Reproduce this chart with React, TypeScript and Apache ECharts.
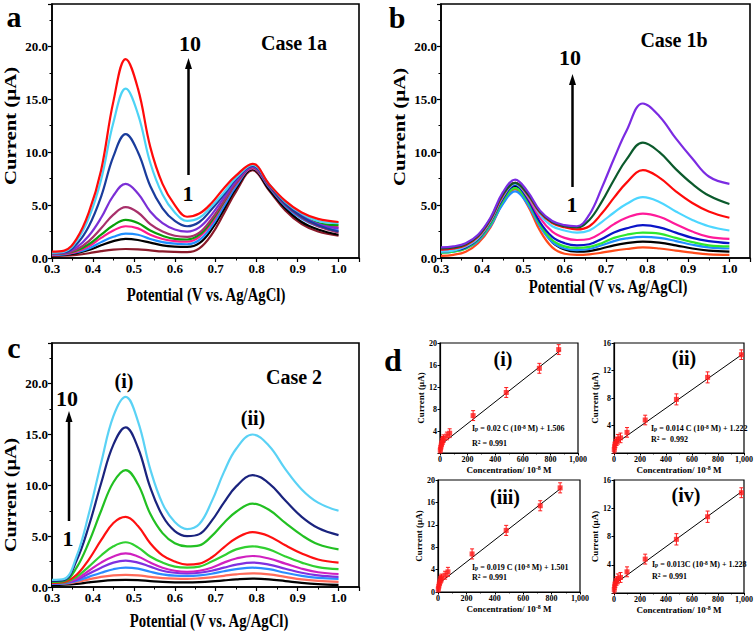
import React, { useEffect, useRef } from 'react';
import * as echarts from 'echarts';

const FONT = "'Liberation Serif', 'Times New Roman', Times, serif";

// Potential sample points (V vs. Ag/AgCl)
const potential = [0.30, 0.33, 0.36, 0.39, 0.42, 0.45, 0.48, 0.51, 0.54, 0.57, 0.60, 0.63, 0.66, 0.69, 0.72, 0.75, 0.79, 0.83, 0.87, 0.91, 0.95, 1.00];

// Panel a (Case 1a) currents, µA, curves 1..10
const a1 = [0.2, 0.22, 0.3, 0.45, 0.65, 0.8, 0.85, 0.82, 0.72, 0.62, 0.57, 0.55, 0.9, 2.2, 4.2, 6.3, 8.3, 6.4, 4.5, 3.2, 2.5, 2.1];
const a2 = [0.3, 0.32, 0.45, 0.75, 1.2, 1.6, 1.8, 1.7, 1.45, 1.2, 1.08, 1.05, 1.4, 2.7, 4.6, 6.6, 8.4, 6.5, 4.7, 3.4, 2.7, 2.2];
const a3 = [0.3, 0.35, 0.55, 0.9, 1.5, 2.0, 2.3, 2.2, 1.8, 1.5, 1.35, 1.3, 1.7, 3.0, 4.9, 6.8, 8.5, 6.7, 4.9, 3.7, 3.0, 2.6];
const a4 = [0.35, 0.4, 0.6, 1.1, 1.9, 2.6, 3.0, 2.8, 2.2, 1.8, 1.6, 1.55, 2.0, 3.3, 5.2, 7.0, 8.5, 6.8, 5.1, 3.9, 3.2, 2.9];
const a5 = [0.4, 0.45, 0.7, 1.3, 2.2, 3.1, 3.6, 3.3, 2.6, 2.1, 1.8, 1.75, 2.2, 3.5, 5.3, 7.1, 8.6, 6.9, 5.2, 4.0, 3.3, 3.1];
const a6 = [0.4, 0.45, 0.8, 1.6, 2.8, 4.1, 4.8, 4.3, 3.2, 2.5, 2.1, 2.0, 2.4, 3.7, 5.4, 7.1, 8.6, 6.8, 5.0, 3.8, 3.0, 2.4];
const a7 = [0.45, 0.5, 1.0, 2.1, 3.8, 5.9, 7.0, 6.1, 4.4, 3.3, 2.7, 2.5, 2.9, 4.1, 5.7, 7.3, 8.6, 6.9, 5.2, 4.0, 3.2, 2.8];
const a8 = [0.5, 0.55, 1.3, 3.0, 5.8, 9.6, 11.7, 10.0, 6.8, 4.7, 3.5, 3.0, 3.4, 4.6, 6.0, 7.5, 8.7, 6.9, 5.1, 3.9, 3.1, 2.5];
const a9 = [0.5, 0.6, 1.6, 3.8, 7.4, 12.8, 16.0, 13.6, 9.0, 6.0, 4.3, 3.5, 3.8, 4.9, 6.2, 7.6, 8.8, 7.0, 5.3, 4.2, 3.5, 3.3];
const a10 = [0.6, 0.7, 1.8, 4.3, 8.3, 14.8, 18.8, 16.0, 10.5, 7.0, 5.0, 3.9, 4.2, 5.2, 6.6, 7.8, 8.9, 7.0, 5.4, 4.3, 3.7, 3.4];
const colorsA = ['#8b1a2a', '#000000', '#1e8fff', '#ff1a8c', '#0aa00a', '#a8306a', '#7b2fd6', '#1a3c9c', '#4cd3f5', '#ff0a0a'];

// Panel b (Case 1b)
const b1 = [0.2, 0.3, 0.6, 1.4, 2.9, 5.2, 6.5, 5.0, 2.6, 1.0, 0.4, 0.3, 0.35, 0.5, 0.7, 0.85, 1.0, 0.9, 0.7, 0.5, 0.35, 0.3];
const b2 = [0.7, 0.8, 1.0, 1.8, 3.3, 5.6, 6.8, 5.5, 3.2, 1.5, 0.8, 0.6, 0.65, 0.9, 1.2, 1.4, 1.55, 1.45, 1.2, 0.9, 0.7, 0.6];
const b3 = [0.5, 0.6, 0.9, 1.6, 3.0, 5.1, 6.3, 5.1, 3.0, 1.5, 0.9, 0.75, 0.85, 1.2, 1.6, 1.85, 2.0, 1.9, 1.6, 1.25, 1.0, 0.9];
const b4 = [0.5, 0.6, 0.9, 1.7, 3.2, 5.4, 6.6, 5.4, 3.2, 1.7, 1.1, 0.95, 1.05, 1.4, 1.9, 2.2, 2.4, 2.3, 1.9, 1.5, 1.2, 1.1];
const b5 = [0.6, 0.7, 1.0, 1.8, 3.4, 5.6, 6.9, 5.6, 3.4, 2.0, 1.4, 1.2, 1.3, 1.8, 2.4, 2.8, 3.1, 2.9, 2.4, 1.9, 1.6, 1.4];
const b6 = [0.7, 0.8, 1.1, 1.9, 3.5, 5.8, 7.1, 5.8, 3.8, 2.5, 1.9, 1.7, 1.8, 2.4, 3.2, 3.8, 4.2, 3.9, 3.2, 2.5, 2.0, 1.8];
const b7 = [0.6, 0.7, 1.1, 1.9, 3.5, 5.8, 7.0, 5.9, 4.1, 3.0, 2.6, 2.4, 2.6, 3.4, 4.3, 5.1, 5.75, 5.3, 4.4, 3.6, 3.0, 2.6];
const b8 = [0.8, 0.9, 1.2, 2.0, 3.6, 5.9, 7.1, 6.0, 4.3, 3.3, 2.9, 2.7, 3.0, 4.2, 5.7, 7.1, 8.3, 7.6, 6.3, 5.2, 4.4, 3.8];
const b9 = [0.9, 1.0, 1.3, 2.1, 3.7, 6.0, 7.1, 6.1, 4.4, 3.4, 3.0, 2.9, 3.6, 5.3, 7.4, 9.3, 10.9, 10.0, 8.4, 7.0, 5.9, 5.1];
const b10 = [1.0, 1.1, 1.4, 2.2, 3.8, 6.2, 7.4, 6.3, 4.5, 3.5, 3.1, 3.0, 4.1, 6.6, 9.4, 12.0, 14.6, 13.4, 11.3, 9.4, 7.7, 7.0];
const colorsB = ['#ff4a1a', '#000000', '#1e8fff', '#2ee82e', '#0a14c8', '#ff1a9a', '#4dd6ff', '#ff0a0a', '#0b5a2c', '#7b2be2'];

// Panel c (Case 2)
const c1 = [0.2, 0.22, 0.3, 0.45, 0.58, 0.67, 0.7, 0.67, 0.58, 0.5, 0.46, 0.45, 0.48, 0.55, 0.65, 0.75, 0.82, 0.75, 0.58, 0.4, 0.28, 0.2];
const c2 = [0.3, 0.32, 0.5, 0.75, 1.0, 1.15, 1.2, 1.15, 1.0, 0.88, 0.82, 0.8, 0.85, 0.95, 1.1, 1.25, 1.35, 1.25, 1.0, 0.75, 0.6, 0.5];
const c3 = [0.3, 0.35, 0.6, 1.0, 1.4, 1.75, 1.9, 1.8, 1.5, 1.25, 1.12, 1.1, 1.15, 1.3, 1.55, 1.75, 1.9, 1.75, 1.4, 1.1, 0.9, 0.8];
const c4 = [0.35, 0.4, 0.7, 1.3, 1.9, 2.4, 2.6, 2.4, 2.0, 1.6, 1.4, 1.35, 1.4, 1.6, 1.9, 2.2, 2.4, 2.2, 1.8, 1.4, 1.15, 1.0];
const c5 = [0.4, 0.45, 0.8, 1.6, 2.4, 3.0, 3.3, 3.0, 2.4, 1.9, 1.6, 1.5, 1.6, 1.9, 2.4, 2.8, 3.05, 2.8, 2.3, 1.8, 1.45, 1.28];
const c6 = [0.4, 0.45, 1.0, 2.0, 3.1, 4.0, 4.4, 3.9, 3.0, 2.4, 2.0, 1.9, 2.0, 2.5, 3.1, 3.7, 4.0, 3.7, 3.0, 2.4, 1.95, 1.75];
const c7 = [0.4, 0.5, 1.2, 2.7, 4.6, 6.3, 6.9, 6.0, 4.3, 3.1, 2.5, 2.2, 2.3, 2.9, 3.9, 4.8, 5.4, 5.0, 4.1, 3.3, 2.7, 2.4];
const c8 = [0.5, 0.6, 1.9, 4.4, 7.5, 10.3, 11.5, 10.1, 7.2, 5.3, 4.3, 4.0, 4.1, 5.0, 6.3, 7.4, 8.2, 7.6, 6.3, 5.1, 4.2, 3.7];
const c9 = [0.6, 0.7, 2.6, 6.0, 10.2, 14.0, 15.7, 13.7, 9.8, 7.0, 5.5, 5.0, 5.2, 6.5, 8.3, 9.9, 11.0, 10.2, 8.5, 6.9, 5.8, 5.1];
const c10 = [0.7, 0.8, 3.0, 7.2, 12.2, 16.8, 18.7, 16.3, 11.6, 8.2, 6.4, 5.7, 6.2, 8.4, 11.3, 13.6, 15.0, 13.9, 11.6, 9.6, 8.3, 7.5];
const colorsC = ['#000000', '#ff6a5a', '#2b8cff', '#8030e0', '#d020c0', '#30d030', '#ff1010', '#22c022', '#1a237e', '#5ad2f5'];

// Panel d calibration data
const concI = [2, 5, 10, 15, 20, 25, 50, 70, 240, 480, 720, 860];
const curI = [0.5, 1.0, 1.5, 2.0, 2.3, 2.6, 3.1, 3.6, 6.8, 11.0, 15.4, 18.8];
const errI = [0.5, 0.6, 0.6, 0.7, 0.7, 0.7, 0.7, 0.8, 0.9, 0.9, 0.9, 0.9];
const fitIX = [0, 875];
const fitIY = [1.4, 18.7];

const concII = [2, 5, 10, 20, 30, 50, 100, 240, 480, 720, 980];
const curII = [0.5, 1.0, 1.4, 1.7, 2.0, 2.2, 3.0, 4.8, 7.8, 11.0, 14.3];
const errII = [0.5, 0.5, 0.6, 0.6, 0.7, 0.7, 0.7, 0.7, 0.8, 0.8, 0.7];
const fitIIX = [0, 990];
const fitIIY = [1.2, 14.4];

const concIII = [2, 5, 10, 15, 20, 25, 50, 70, 240, 480, 720, 860];
const curIII = [0.5, 1.0, 1.5, 2.0, 2.3, 2.5, 3.0, 3.6, 6.8, 11.0, 15.4, 18.6];
const errIII = [0.5, 0.6, 0.6, 0.7, 0.7, 0.7, 0.7, 0.8, 0.9, 0.9, 0.9, 0.9];
const fitIIIX = [0, 870];
const fitIIIY = [1.4, 18.6];

const concIV = [2, 5, 10, 20, 30, 50, 100, 240, 480, 720, 980];
const curIV = [0.5, 1.0, 1.4, 1.7, 2.0, 2.2, 3.0, 4.8, 7.6, 10.8, 14.2];
const errIV = [0.5, 0.5, 0.6, 0.6, 0.7, 0.7, 0.7, 0.7, 0.8, 0.8, 0.7];
const fitIVX = [0, 985];
const fitIVY = [1.2, 14.4];

const bigTicksX = { min: 0.3, max: 1.05, interval: 0.1, lastLabel: 1.0 };
const bigTicksY = { min: 0, max: 24, interval: 5, lastLabel: 20 };

function bigAxes(gi: number) {
  const lbl = { color: '#000', fontFamily: FONT, fontWeight: 'bold', fontSize: 13 };
  return {
    x: {
      type: 'value', gridIndex: gi, min: bigTicksX.min, max: bigTicksX.max, interval: bigTicksX.interval,
      axisLine: { show: true, onZero: false, lineStyle: { color: '#000', width: 1.5 } },
      axisTick: { show: true, length: 4, lineStyle: { color: '#000', width: 1.2 } },
      minorTick: { show: true, splitNumber: 2, length: 2.5, lineStyle: { color: '#000', width: 1 } },
      splitLine: { show: false },
      axisLabel: { ...lbl, margin: 4, showMaxLabel: false, formatter: (v: number) => (v > bigTicksX.lastLabel + 0.001 ? '' : v.toFixed(1)) },
    },
    y: {
      type: 'value', gridIndex: gi, min: bigTicksY.min, max: bigTicksY.max, interval: bigTicksY.interval,
      axisLine: { show: true, onZero: false, lineStyle: { color: '#000', width: 1.5 } },
      axisTick: { show: true, length: 4, lineStyle: { color: '#000', width: 1.2 } },
      minorTick: { show: true, splitNumber: 2, length: 2.5, lineStyle: { color: '#000', width: 1 } },
      splitLine: { show: false },
      axisLabel: { ...lbl, margin: 4, showMaxLabel: false, formatter: (v: number) => (v > bigTicksY.lastLabel + 0.001 ? '' : v.toFixed(1)) },
    },
  };
}

function smallAxes(gi: number, ymax: number, showZero: boolean) {
  const lbl = { color: '#000', fontFamily: FONT, fontWeight: 'bold', fontSize: 8 };
  const nameStyle = {
    color: '#000', fontFamily: FONT, fontWeight: 'bold', fontSize: 9,
    rich: { sup: { color: '#000', fontFamily: FONT, fontWeight: 'bold', fontSize: 6, verticalAlign: 'top' } },
  };
  return {
    x: {
      type: 'value', gridIndex: gi, min: 0, max: 1000, interval: 200,
      axisLine: { show: true, onZero: false, lineStyle: { color: '#000', width: 1.2 } },
      axisTick: { show: true, length: 2.5, lineStyle: { color: '#000', width: 1 } },
      minorTick: { show: true, splitNumber: 2, length: 1.5, lineStyle: { color: '#000', width: 0.8 } },
      splitLine: { show: false },
      axisLabel: { ...lbl, margin: 2 },
      name: 'Concentration/ 10{sup|-8} M', nameLocation: 'middle', nameGap: 12, nameTextStyle: nameStyle,
    },
    y: {
      type: 'value', gridIndex: gi, min: 0, max: ymax, interval: 4,
      axisLine: { show: true, onZero: false, lineStyle: { color: '#000', width: 1.2 } },
      axisTick: { show: true, length: 2.5, lineStyle: { color: '#000', width: 1 } },
      splitLine: { show: false },
      axisLabel: { ...lbl, margin: 3, formatter: (v: number) => (v === 0 && !showZero ? '' : String(v)) },
      name: 'Current (µA)', nameLocation: 'middle', nameGap: 15, nameRotate: 90, nameTextStyle: nameStyle,
    },
  };
}

function curveSeries(vals: number[], color: string, gi: number) {
  return {
    type: 'line', xAxisIndex: gi, yAxisIndex: gi,
    data: potential.map((p, i) => [p, vals[i]]),
    smooth: 0.4, showSymbol: false, symbol: 'none', silent: true,
    lineStyle: { color, width: 2.2 }, itemStyle: { color }, z: 2,
  };
}

function calibSeries(gi: number, xs: number[], ys: number[], es: number[], fx: number[], fy: number[]) {
  const red = '#ff1a1a';
  return [
    {
      type: 'line', xAxisIndex: gi, yAxisIndex: gi, data: fx.map((x, i) => [x, fy[i]]),
      showSymbol: false, symbol: 'none', silent: true, lineStyle: { color: '#000', width: 1 }, z: 2,
    },
    {
      type: 'custom', xAxisIndex: gi, yAxisIndex: gi, silent: true, z: 3,
      data: xs.map((x, i) => [x, ys[i], es[i]]),
      encode: { x: 0, y: 1 },
      renderItem: (params: any, api: any) => {
        const x = api.value(0), y = api.value(1), e = api.value(2);
        const t = api.coord([x, y + e]);
        const b = api.coord([x, y - e]);
        const w = 2;
        const st = { stroke: red, lineWidth: 1 };
        return {
          type: 'group',
          children: [
            { type: 'line', shape: { x1: t[0], y1: t[1], x2: b[0], y2: b[1] }, style: st },
            { type: 'line', shape: { x1: t[0] - w, y1: t[1], x2: t[0] + w, y2: t[1] }, style: st },
            { type: 'line', shape: { x1: b[0] - w, y1: b[1], x2: b[0] + w, y2: b[1] }, style: st },
          ],
        };
      },
    },
    {
      type: 'scatter', xAxisIndex: gi, yAxisIndex: gi, data: xs.map((x, i) => [x, ys[i]]),
      symbol: 'rect', symbolSize: 5, itemStyle: { color: red }, silent: true, z: 4,
    },
  ];
}

function T(x: number, y: number, text: string, size: number, extra: any = {}, el: any = {}) {
  return {
    type: 'text', x, y, z: 20, ...el,
    style: { text, fontSize: size, fontFamily: FONT, fontWeight: 'bold', fill: '#000', align: 'center', verticalAlign: 'middle', ...extra },
  };
}

function arrow(x: number, yBottom: number, yTip: number) {
  return [
    { type: 'line', z: 20, shape: { x1: x, y1: yBottom, x2: x, y2: yTip + 8 }, style: { stroke: '#000', lineWidth: 2.5 } },
    { type: 'polygon', z: 20, shape: { points: [[x, yTip], [x - 3.5, yTip + 11], [x + 3.5, yTip + 11]] }, style: { fill: '#000' } },
  ];
}

const eqRich = {
  sub: { fontSize: 5.5, fontFamily: FONT, fontWeight: 'bold', fill: '#000', verticalAlign: 'bottom' },
  sup: { fontSize: 5.5, fontFamily: FONT, fontWeight: 'bold', fill: '#000', verticalAlign: 'top' },
};

function eq(x: number, y: number, text: string) {
  return T(x, y, text, 8, { align: 'left', rich: eqRich });
}

export default function App() {
  const ref = useRef<HTMLDivElement>(null);
  useEffect(() => {
    if (!ref.current) return;
    const chart = echarts.init(ref.current, null, { renderer: 'svg' });
    const A = bigAxes(0), B = bigAxes(1), C = bigAxes(2);
    const D1 = smallAxes(3, 20, false), D2 = smallAxes(4, 16, false), D3 = smallAxes(5, 20, true), D4 = smallAxes(6, 16, false);
    const gridStyle = { show: true, borderColor: '#000', borderWidth: 1.6, backgroundColor: 'transparent' };
    const smallGrid = { show: true, borderColor: '#000', borderWidth: 1.2, backgroundColor: 'transparent' };
    const curvesA = [a1, a2, a3, a4, a5, a6, a7, a8, a9, a10];
    const curvesB = [b1, b2, b3, b4, b5, b6, b7, b8, b9, b10];
    const curvesC = [c1, c2, c3, c4, c5, c6, c7, c8, c9, c10];
    const series: any[] = [
      ...curvesA.map((v, i) => curveSeries(v, colorsA[i], 0)),
      ...curvesB.map((v, i) => curveSeries(v, colorsB[i], 1)),
      ...curvesC.map((v, i) => curveSeries(v, colorsC[i], 2)),
      ...calibSeries(3, concI, curI, errI, fitIX, fitIY),
      ...calibSeries(4, concII, curII, errII, fitIIX, fitIIY),
      ...calibSeries(5, concIII, curIII, errIII, fitIIIX, fitIIIY),
      ...calibSeries(6, concIV, curIV, errIV, fitIVX, fitIVY),
    ];
    const xName = 'Potential (V vs. Ag/AgCl)';
    const yName = 'Current (µA)';
    const graphic: any[] = [
      T(14, 16, 'a', 30),
      T(397, 17, 'b', 30),
      T(14, 347, 'c', 30),
      T(393, 360, 'd', 32),
      T(206, 295, xName, 18, {}, { scaleX: 0.82 }),
      T(608, 287, xName, 18, {}, { scaleX: 0.82 }),
      T(209, 621, xName, 18, {}, { scaleX: 0.82 }),
      T(10, 126, yName, 17, {}, { rotation: Math.PI / 2, scaleX: 1.22 }),
      T(399, 127, yName, 17, {}, { rotation: Math.PI / 2, scaleX: 1.22 }),
      T(10, 495, yName, 17, {}, { rotation: Math.PI / 2, scaleX: 1.18 }),
      T(294, 43, 'Case 1a', 20),
      T(674, 40, 'Case 1b', 20),
      T(294, 377, 'Case 2', 20),
      T(190, 43, '10', 22),
      T(188, 193, '1', 22),
      ...arrow(188.5, 175, 58),
      T(570, 57, '10', 22),
      T(572, 204, '1', 22),
      ...arrow(572.5, 187, 74),
      T(67, 398, '10', 22),
      T(68, 538, '1', 22),
      ...arrow(69, 521, 411),
      T(124, 381, '(i)', 20),
      T(253, 418, '(ii)', 20),
      T(503, 359, '(i)', 20),
      T(684, 358, '(ii)', 20),
      T(505, 497, '(iii)', 20),
      T(686, 495, '(iv)', 20),
      eq(472, 428, 'I{sub|p} = 0.02 C (10{sup|-8} M) + 1.506'),
      eq(472, 443, 'R{sup|2} = 0.991'),
      eq(651, 428, 'I{sub|p} = 0.014 C (10{sup|-8} M) + 1.222'),
      eq(651, 439, 'R{sup|2} =  0.992'),
      eq(472, 567, 'I{sub|p} = 0.019 C (10{sup|-8} M) + 1.501'),
      eq(472, 577, 'R{sup|2} = 0.991'),
      eq(652, 564, 'I{sub|p} = 0.013C (10{sup|-8} M) + 1.228'),
      eq(652, 576, 'R{sup|2} = 0.991'),
    ];
    chart.setOption({
      animation: false,
      backgroundColor: '#fff',
      grid: [
        { left: 52, top: 4, width: 307, height: 254, ...gridStyle },
        { left: 441, top: 4, width: 309, height: 254, ...gridStyle },
        { left: 52, top: 343, width: 307, height: 244, ...gridStyle },
        { left: 440, top: 343, width: 138, height: 110, ...smallGrid },
        { left: 614, top: 343, width: 134, height: 110, ...smallGrid },
        { left: 438, top: 480, width: 142, height: 112, ...smallGrid },
        { left: 614, top: 480, width: 135, height: 113, ...smallGrid },
      ],
      xAxis: [A.x, B.x, C.x, D1.x, D2.x, D3.x, D4.x],
      yAxis: [A.y, B.y, C.y, D1.y, D2.y, D3.y, D4.y],
      series,
      graphic,
    });
    return () => chart.dispose();
  }, []);
  return <div ref={ref} style={{ position: 'absolute', left: 0, top: 0, width: 756, height: 634 }} />;
}
